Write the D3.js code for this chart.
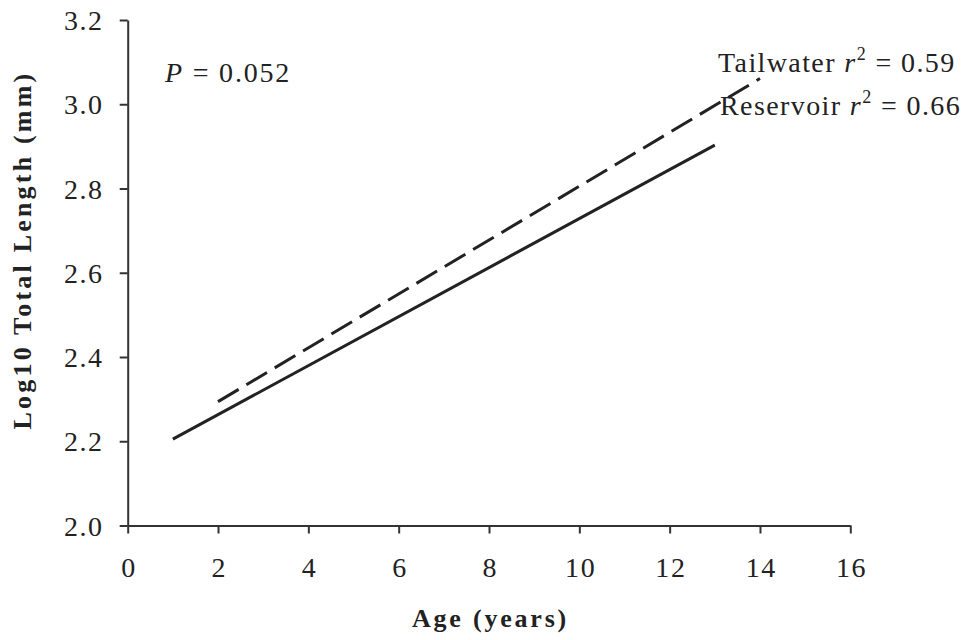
<!DOCTYPE html>
<html><head><meta charset="utf-8">
<script src="https://cdn.jsdelivr.net/npm/d3@7"></script>
<style>
html,body{margin:0;padding:0;background:#fff;}
svg text{font-family:"Times New Roman","Liberation Serif",Times,serif;fill:#222;}
</style></head>
<body>
<svg id="chart" width="969" height="640"></svg>
<script>
// Data
const reservoirAge = [1, 13];
const reservoirLog = [2.205, 2.903];
const tailwaterAge = [2, 14];
const tailwaterLog = [2.294, 3.061];
const xTicks = [0, 2, 4, 6, 8, 10, 12, 14, 16];
const yTicks = [2.0, 2.2, 2.4, 2.6, 2.8, 3.0, 3.2];
const labels = {
  tailwater: ["Tailwater ", "r", "2", " = 0.59"],
  reservoir: ["Reservoir ", "r", "2", " = 0.66"],
  p: ["P", " = 0.052"]
};

const svg = d3.select("#chart");
const x = d3.scaleLinear().domain([0, 16]).range([127.7, 850.3]);
const y = d3.scaleLinear().domain([2.0, 3.2]).range([525.5, 20]);

const xAxis = svg.append("g").attr("transform", `translate(0,${y(2.0)})`)
  .call(d3.axisBottom(x).tickValues(xTicks).tickSize(8).tickSizeOuter(0).tickFormat(d3.format("d")));
const yAxis = svg.append("g").attr("transform", `translate(${x(0)},0)`)
  .call(d3.axisLeft(y).tickValues(yTicks).tickSize(8).tickSizeOuter(0).tickFormat(d3.format(".1f")));
[xAxis, yAxis].forEach(g => {
  g.attr("font-family", null).attr("font-size", null);
  g.selectAll("path.domain").attr("stroke", "#333").attr("stroke-width", 2);
  g.selectAll(".tick line").attr("stroke", "#333").attr("stroke-width", 2);
  g.selectAll(".tick text").attr("font-size", 28).attr("letter-spacing", 1.6).attr("fill", "#222");
});
xAxis.selectAll(".tick text").attr("dy", null).attr("y", 51.5).attr("dx", 0.8);
yAxis.selectAll(".tick text").attr("x", -24).attr("dy", "0.34em");

const line = d3.line().x(d => x(d[0])).y(d => y(d[1]));
svg.append("path").datum(reservoirAge.map((a, i) => [a, reservoirLog[i]]))
  .attr("d", line).attr("fill", "none").attr("stroke", "#222").attr("stroke-width", 3);
svg.append("path").datum(tailwaterAge.map((a, i) => [a, tailwaterLog[i]]))
  .attr("d", line).attr("fill", "none").attr("stroke", "#222").attr("stroke-width", 3)
  .attr("stroke-dasharray", "24,9");

function rLabel(parts, tx, ty) {
  const t = svg.append("text").attr("x", tx).attr("y", ty).attr("font-size", 28).attr("letter-spacing", 1.4);
  t.append("tspan").text(parts[0]);
  t.append("tspan").attr("font-style", "italic").text(parts[1]);
  t.append("tspan").attr("font-size", 18).attr("dy", -12).text(parts[2]);
  t.append("tspan").attr("dy", 12).text(parts[3]);
}
rLabel(labels.tailwater, 718, 72);
rLabel(labels.reservoir, 720, 115);

const pt = svg.append("text").attr("x", 165).attr("y", 82).attr("font-size", 28).attr("letter-spacing", 1.8);
pt.append("tspan").attr("font-style", "italic").text(labels.p[0]);
pt.append("tspan").text(labels.p[1]);

svg.append("text").attr("x", x(8) + 1.5).attr("y", 627).attr("text-anchor", "middle")
  .attr("font-size", 26).attr("font-weight", "bold").attr("letter-spacing", 2.8).text("Age (years)");
svg.append("text").attr("transform", `translate(31,250) rotate(-90)`)
  .attr("text-anchor", "middle").attr("font-size", 26).attr("font-weight", "bold")
  .attr("letter-spacing", 3.2).text("Log10 Total Length (mm)");
</script>
</body></html>
